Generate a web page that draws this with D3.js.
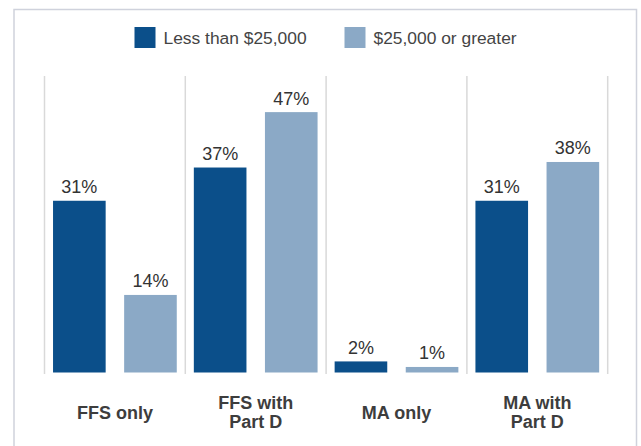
<!DOCTYPE html>
<html>
<head>
<meta charset="utf-8">
<script src="https://cdn.jsdelivr.net/npm/d3@7"></script>
<style>
  body { margin: 0; background: #fff; }
  svg { display: block; font-family: "Liberation Sans", Arial, sans-serif; }
</style>
</head>
<body>
<div id="chart"></div>
<script>
const categories = [["FFS only"], ["FFS with", "Part D"], ["MA only"], ["MA with", "Part D"]];
const seriesNames = ["Less than $25,000", "$25,000 or greater"];
const lowIncome = [31, 37, 2, 31];
const highIncome = [14, 47, 1, 38];
const colors = ["#0b4f8a", "#8ba9c6"];

const W = 641, H = 446;
const svg = d3.select("#chart").append("svg")
  .attr("width", W)
  .attr("height", H);

// outer frame (top, left, right only)
svg.append("path")
  .attr("d", "M14,446 L14,9.5 L636.5,9.5 L636.5,446")
  .attr("fill", "none")
  .attr("stroke", "#cfd2dc")
  .attr("stroke-width", 1.5);

const x0 = d3.scaleBand()
  .domain(d3.range(categories.length))
  .range([44.5, 607.7]);

const x1 = d3.scaleBand()
  .domain([0, 1])
  .range([0, x0.bandwidth()])
  .paddingInner(0.26)
  .paddingOuter(0.12);

const y = d3.scaleLinear()
  .domain([0, 50])
  .range([372.5, 95.5]);

// group separators
const seps = d3.range(categories.length + 1).map((i) => 44.5 + i * x0.step());
svg.selectAll(".sep")
  .data(seps)
  .enter()
  .append("line")
  .attr("x1", (d) => d)
  .attr("x2", (d) => d)
  .attr("y1", 76)
  .attr("y2", 374)
  .attr("stroke", "#d9d9d9")
  .attr("stroke-width", 1.5);

const data = [];
categories.forEach((c, i) => {
  data.push({ g: i, s: 0, v: lowIncome[i] });
  data.push({ g: i, s: 1, v: highIncome[i] });
});

svg.selectAll(".bar")
  .data(data)
  .enter()
  .append("rect")
  .attr("x", (d) => x0(d.g) + x1(d.s))
  .attr("y", (d) => y(d.v))
  .attr("width", x1.bandwidth())
  .attr("height", (d) => y(0) - y(d.v))
  .attr("fill", (d) => colors[d.s]);

svg.selectAll(".val")
  .data(data)
  .enter()
  .append("text")
  .attr("x", (d) => x0(d.g) + x1(d.s) + x1.bandwidth() / 2)
  .attr("y", (d) => y(d.v) - 7.5)
  .attr("text-anchor", "middle")
  .style("font-size", "18px")
  .style("fill", "#333")
  .text((d) => d.v + "%");

// category labels
const cat = svg.selectAll(".cat")
  .data(categories)
  .enter()
  .append("text")
  .attr("text-anchor", "middle")
  .style("font-size", "18px")
  .style("font-weight", "bold")
  .style("fill", "#3d3d3d")
  .attr("transform", (d, i) => `translate(${x0(i) + x0.bandwidth() / 2},${418.8 - (d.length - 1) * 9.5})`);

cat.selectAll("tspan")
  .data((d) => d)
  .enter()
  .append("tspan")
  .attr("x", 0)
  .attr("y", (d, i) => i * 19)
  .text((d) => d);

// legend
const legendX = [134.5, 344.5];
const legend = svg.selectAll(".legend")
  .data(seriesNames)
  .enter()
  .append("g")
  .attr("transform", (d, i) => `translate(${legendX[i]},27)`);

legend.append("rect")
  .attr("width", 21)
  .attr("height", 21)
  .attr("fill", (d, i) => colors[i]);

legend.append("text")
  .attr("x", 29)
  .attr("y", 17)
  .style("font-size", "17.4px")
  .style("fill", "#444")
  .text((d) => d);
</script>
</body>
</html>
